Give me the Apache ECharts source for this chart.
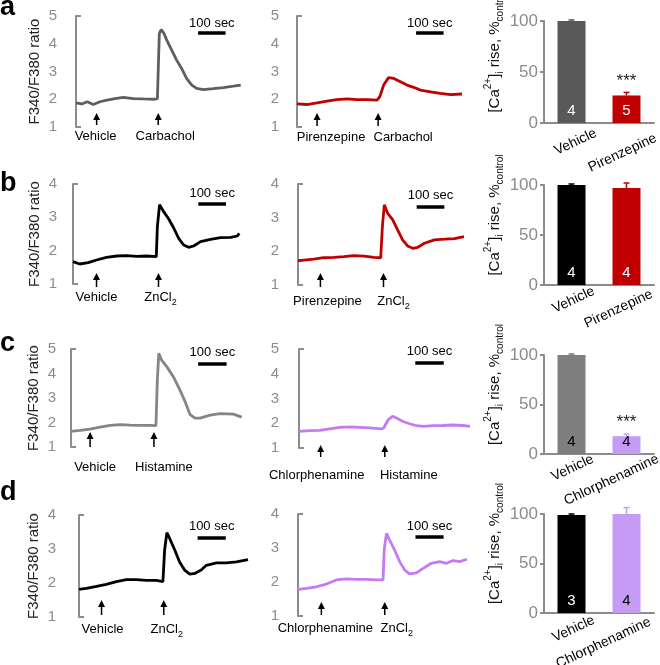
<!DOCTYPE html>
<html>
<head>
<meta charset="utf-8">
<script src="https://cdn.jsdelivr.net/npm/echarts@6/dist/echarts.min.js"></script>
<style>
html, body { margin: 0; padding: 0; background: #fff; }
#chart { width: 660px; height: 665px; }
</style>
</head>
<body>
<div id="chart"></div>
<script>
// ratio traces, [time in sec, F340/F380]
var traceA1 = [[0,1.87],[21,1.83],[41,1.91],[63,1.81],[87,1.91],[112,1.97],[142,2.02],[172,2.07],[208,2.02],[245,2.01],[287,2.0],[296,2.02],[303,4.37],[310,4.51],[320,4.37],[330,4.13],[348,3.77],[366,3.41],[384,3.11],[402,2.75],[421,2.51],[439,2.39],[463,2.35],[499,2.38],[536,2.42],[572,2.47],[599,2.51]];
var traceA2 = [[0,1.83],[36,1.81],[73,1.87],[109,1.93],[145,1.99],[182,2.01],[218,1.99],[255,1.99],[291,1.97],[301,2.09],[315,2.51],[333,2.78],[352,2.75],[376,2.63],[400,2.51],[424,2.43],[449,2.33],[485,2.27],[521,2.21],[558,2.17],[600,2.19]];
var traceB1 = [[0,1.67],[24,1.60],[55,1.64],[85,1.72],[121,1.80],[158,1.84],[194,1.85],[230,1.83],[267,1.84],[301,1.82],[305,2.73],[313,3.38],[327,3.18],[346,2.95],[364,2.68],[382,2.37],[400,2.17],[418,2.10],[436,2.14],[461,2.27],[497,2.34],[533,2.39],[570,2.40],[594,2.44],[601,2.52]];
var traceB2 = [[0,1.72],[21,1.74],[57,1.77],[93,1.81],[130,1.82],[166,1.84],[202,1.87],[239,1.86],[275,1.82],[299,1.81],[305,2.74],[312,3.38],[324,3.13],[342,2.94],[360,2.64],[378,2.34],[396,2.16],[415,2.09],[433,2.12],[457,2.24],[493,2.34],[530,2.36],[566,2.38],[600,2.44]];
var traceC1 = [[0,1.64],[32,1.68],[67,1.73],[102,1.81],[137,1.88],[172,1.91],[207,1.89],[242,1.88],[277,1.88],[298,1.87],[303,3.74],[308,4.82],[318,4.55],[336,4.28],[359,3.87],[382,3.33],[400,2.86],[418,2.32],[435,2.18],[453,2.18],[488,2.30],[523,2.36],[570,2.34],[599,2.22]];
var traceC2 = [[0,1.67],[37,1.70],[73,1.71],[108,1.77],[143,1.83],[178,1.85],[213,1.83],[248,1.81],[289,1.77],[297,1.81],[313,2.14],[328,2.28],[342,2.21],[365,2.07],[388,1.98],[412,1.90],[437,1.87],[470,1.90],[505,1.91],[540,1.93],[575,1.91],[600,1.87]];
var traceD1 = [[0,1.81],[26,1.84],[62,1.90],[97,1.96],[133,2.04],[168,2.10],[204,2.10],[239,2.08],[275,2.08],[298,2.04],[304,2.97],[312,3.48],[322,3.31],[340,2.97],[357,2.62],[375,2.38],[393,2.26],[411,2.28],[434,2.38],[452,2.52],[488,2.59],[523,2.59],[559,2.62],[600,2.69]];
var traceD2 = [[0,1.78],[30,1.81],[65,1.86],[101,1.94],[136,2.06],[172,2.09],[207,2.08],[243,2.08],[278,2.06],[302,2.06],[306,2.94],[314,3.43],[325,3.24],[343,2.94],[361,2.60],[379,2.35],[396,2.24],[420,2.27],[444,2.40],[473,2.55],[503,2.60],[527,2.55],[550,2.63],[574,2.60],[600,2.67]];

// drug application times (sec) and the label under each arrow
var arrowsA1 = [75, 299], namesA1 = ['Vehicle', 'Carbachol'];
var arrowsA2 = [73, 295], namesA2 = ['Pirenzepine', 'Carbachol'];
var arrowsB1 = [85, 309], namesB1 = ['Vehicle', 'ZnCl2'];
var arrowsB2 = [81, 309], namesB2 = ['Pirenzepine', 'ZnCl2'];
var arrowsC1 = [67, 291], namesC1 = ['Vehicle', 'Histamine'];
var arrowsC2 = [76, 301], namesC2 = ['Chlorphenamine', 'Histamine'];
var arrowsD1 = [80, 301], namesD1 = ['Vehicle', 'ZnCl2'];
var arrowsD2 = [83, 308], namesD2 = ['Chlorphenamine', 'ZnCl2'];

// summary bars: mean, sem, n, significance
var catsAB = ['Vehicle', 'Pirenzepine'];
var catsCD = ['Vehicle', 'Chlorphenamine'];
var meanA = [100, 27], semA = [1, 3], nA = [4, 5], sigA = ['', '***'];
var meanB = [100, 97], semB = [1, 5], nB = [4, 4], sigB = ['', ''];
var meanC = [100, 18], semC = [1, 2], nC = [4, 4], sigC = ['', '***'];
var meanD = [99, 100], semD = [1, 6.5], nD = [3, 4], sigD = ['', ''];

var FONT = '"Liberation Sans", Arial, sans-serif';
var GRAY = '#8c8c8c';
var RED = '#c00000';
var PURPLE = '#c47af2';

var tracePanels = [
  {data: traceA1, color: '#5e5e5e', axisX: 64, left: 76, top: 16, width: 165, height: 111, yMax: 5, yName: true,
   arrows: arrowsA1, names: namesA1, dx: [-1, 7], tip: 113, foot: 125, labelY: 136, scaleT: 444, barY: 33, textY: 23},
  {data: traceA2, color: RED, axisX: 286, left: 297, top: 16, width: 165, height: 111, yMax: 5,
   arrows: arrowsA2, names: namesA2, dx: [14, 25], tip: 113, foot: 126, labelY: 137, scaleT: 433, barY: 33, textY: 23},
  {data: traceB1, color: '#000', axisX: 64, left: 73, top: 184, width: 166, height: 100, yMax: 4, yName: true,
   arrows: arrowsB1, names: namesB1, dx: [0, 2], tip: 273, foot: 287, labelY: 297, scaleT: 453, barY: 204, textY: 193},
  {data: traceB2, color: RED, axisX: 286, left: 298, top: 184, width: 166, height: 101, yMax: 4,
   arrows: arrowsB2, names: namesB2, dx: [7, 10], tip: 273, foot: 287, labelY: 301, scaleT: 429, barY: 207, textY: 195},
  {data: traceC1, color: '#858585', axisX: 63, left: 71, top: 349, width: 171, height: 98, yMax: 5, yName: true,
   arrows: arrowsC1, names: namesC1, dx: [5, 10], tip: 432, foot: 447, labelY: 467, scaleT: 446, barY: 364, textY: 352},
  {data: traceC2, color: PURPLE, axisX: 286, left: 299, top: 349, width: 171, height: 99, yMax: 5,
   arrows: arrowsC2, names: namesC2, dx: [-4, 24], tip: 445, foot: 457, labelY: 475, scaleT: 408, barY: 363, textY: 351},
  {data: traceD1, color: '#000', axisX: 63, left: 79, top: 515, width: 169, height: 102, yMax: 4, yName: true,
   arrows: arrowsD1, names: namesD1, dx: [1, 3], tip: 600, foot: 615, labelY: 629, scaleT: 421, barY: 538, textY: 526},
  {data: traceD2, color: PURPLE, axisX: 286, left: 298, top: 514, width: 169, height: 102, yMax: 4,
   arrows: arrowsD2, names: namesD2, dx: [4, 12], tip: 602, foot: 615, labelY: 628, scaleT: 417, barY: 537, textY: 526}
];

var barPanels = [
  {cats: catsAB, mean: meanA, sem: semA, n: nA, sig: sigA, top: 21, height: 102,
   colors: ['#595959', RED], numColors: ['#fff', '#fff'], catDx: [4, -4], catDy: [19, 30]},
  {cats: catsAB, mean: meanB, sem: semB, n: nB, sig: sigB, top: 185, height: 100,
   colors: ['#000', RED], numColors: ['#fff', '#fff'], catDx: [2, -8], catDy: [15, 24]},
  {cats: catsCD, mean: meanC, sem: semC, n: nC, sig: sigC, top: 355, height: 99,
   colors: ['#7f7f7f', '#c69bf6'], numColors: ['#000', '#000'], catDx: [1, -15], catDy: [14, 26]},
  {cats: catsCD, mean: meanD, sem: semD, n: nD, sig: sigD, top: 514, height: 99,
   colors: ['#000', '#c69bf6'], numColors: ['#fff', '#000'], catDx: [2, -23], catDy: [16, 30]}
];

var grids = [], xAxes = [], yAxes = [], series = [];

tracePanels.forEach(function (p, i) {
  grids.push({left: p.left, top: p.top, width: p.width, height: p.height, outerBoundsMode: 'none'});
  xAxes.push({type: 'value', gridIndex: i, min: 0, max: 600, show: false});
  yAxes.push({
    type: 'value', gridIndex: i, min: 1, max: p.yMax, interval: 1,
    offset: p.left - p.axisX,
    axisLine: {show: true, lineStyle: {color: GRAY, width: 2}},
    axisTick: {show: true, inside: true, length: 5, customValues: [1, p.yMax], lineStyle: {color: GRAY, width: 2}},
    axisLabel: {color: GRAY, fontSize: 15, margin: 7, fontFamily: FONT},
    splitLine: {show: false},
    name: p.yName ? 'F340/F380 ratio' : '',
    nameLocation: 'middle', nameRotate: 90, nameGap: 22,
    nameTextStyle: {color: '#222', fontSize: 15, fontFamily: FONT}
  });
  series.push({
    type: 'line', xAxisIndex: i, yAxisIndex: i, data: p.data,
    showSymbol: false, lineStyle: {color: p.color, width: 2.8}, animation: false
  });
});

barPanels.forEach(function (b, k) {
  var i = tracePanels.length + k;
  grids.push({left: 544, top: b.top, width: 110, height: b.height, outerBoundsMode: 'none'});
  xAxes.push({
    type: 'category', gridIndex: i, data: b.cats,
    axisLine: {lineStyle: {color: GRAY, width: 2}},
    axisTick: {show: false},
    axisLabel: {show: false}
  });
  yAxes.push({
    type: 'value', gridIndex: i, min: 0, max: 100, interval: 50,
    axisLine: {show: true, lineStyle: {color: GRAY, width: 2}},
    axisTick: {show: true, length: 4, lineStyle: {color: GRAY, width: 2}},
    axisLabel: {color: GRAY, fontSize: 17, margin: 6, fontFamily: FONT},
    splitLine: {show: false},
    name: '{n|[Ca}{sup|2+}{n|]}{sub|i}{n| rise, %}{sub|control}',
    nameLocation: 'middle', nameRotate: 90, nameGap: 33,
    nameTextStyle: {
      padding: [0, 0, 0, 40],
      rich: {
        n: {fontSize: 15, color: '#111', lineHeight: 22, fontFamily: FONT},
        sup: {fontSize: 10, color: '#111', lineHeight: 12, verticalAlign: 'top', fontFamily: FONT},
        sub: {fontSize: 10, color: '#111', lineHeight: 12, verticalAlign: 'bottom', fontFamily: FONT}
      }
    }
  });
  series.push({
    type: 'bar', xAxisIndex: i, yAxisIndex: i, barWidth: 28, animation: false,
    data: b.mean.map(function (v, j) {
      return {value: v, itemStyle: {color: b.colors[j]},
        label: {color: b.numColors[j]}};
    }),
    label: {show: true, position: 'insideBottom', distance: 5, fontSize: 15, fontFamily: FONT,
      formatter: function (p) { return String(b.n[p.dataIndex]); }}
  });
  series.push({
    type: 'custom', xAxisIndex: i, yAxisIndex: i, animation: false, z: 3,
    data: b.mean.map(function (v, j) { return [j, v, b.sem[j], j]; }),
    encode: {x: 0, y: 1},
    renderItem: function (params, api) {
      var j = api.value(3);
      var base = api.coord([api.value(0), api.value(1)]);
      var top = api.coord([api.value(0), api.value(1) + api.value(2)]);
      var col = b.colors[j];
      var kids = [
        {type: 'line', shape: {x1: base[0], y1: base[1], x2: top[0], y2: top[1]}, style: {stroke: col, lineWidth: 1.5}},
        {type: 'line', shape: {x1: top[0] - 3, y1: top[1], x2: top[0] + 3, y2: top[1]}, style: {stroke: col, lineWidth: 1.5}}
      ];
      if (b.sig[j]) {
        kids.push({type: 'text', x: top[0], y: top[1] - 3,
          style: {text: b.sig[j], align: 'center', verticalAlign: 'bottom', fontSize: 17, fontFamily: FONT, fill: '#222'}});
      }
      return {type: 'group', children: kids};
    }
  });
});

var chart = echarts.init(document.getElementById('chart'));
chart.setOption({
  animation: false,
  textStyle: {fontFamily: FONT},
  grid: grids, xAxis: xAxes, yAxis: yAxes, series: series
});

function labelText(name) {
  if (name === 'ZnCl2') return '{b|ZnCl}{s|2}';
  return '{b|' + name + '}';
}

var richLabel = {
  b: {fontSize: 13, fontFamily: FONT, fill: '#000', lineHeight: 20},
  s: {fontSize: 9, fontFamily: FONT, fill: '#000', lineHeight: 10, verticalAlign: 'bottom'}
};

var graphics = [];
tracePanels.forEach(function (p, i) {
  p.arrows.forEach(function (t, k) {
    var x = chart.convertToPixel({gridIndex: i}, [t, 1])[0];
    graphics.push({type: 'line', shape: {x1: x, y1: p.tip + 5, x2: x, y2: p.foot}, style: {stroke: '#000', lineWidth: 1.5}});
    graphics.push({type: 'polygon', shape: {points: [[x, p.tip], [x - 3.5, p.tip + 7], [x + 3.5, p.tip + 7]]}, style: {fill: '#000'}});
    graphics.push({type: 'text', x: x + p.dx[k], y: p.labelY,
      style: {text: labelText(p.names[k]), rich: richLabel, align: 'center', verticalAlign: 'middle'}});
  });
  var a = chart.convertToPixel({gridIndex: i}, [p.scaleT, 1]);
  var b = chart.convertToPixel({gridIndex: i}, [p.scaleT + 100, 1]);
  graphics.push({type: 'rect', shape: {x: a[0], y: p.barY - 1.75, width: b[0] - a[0], height: 3.5}, style: {fill: '#000'}});
  graphics.push({type: 'text', x: (a[0] + b[0]) / 2, y: p.textY,
    style: {text: '100 sec', fontSize: 13, fontFamily: FONT, fill: '#000', align: 'center', verticalAlign: 'middle'}});
});

// slanted category names under the summary bars
barPanels.forEach(function (b, k) {
  var i = tracePanels.length + k;
  b.cats.forEach(function (c, j) {
    var pt = chart.convertToPixel({gridIndex: i}, [j, 0]);
    graphics.push({type: 'text', x: pt[0] + b.catDx[j], y: pt[1] + b.catDy[j], rotation: 25 * Math.PI / 180,
      style: {text: c, fontSize: 14, fontFamily: FONT, fill: '#000', align: 'center', verticalAlign: 'middle'}});
  });
});

[['a', 8], ['b', 184], ['c', 344], ['d', 493]].forEach(function (l) {
  graphics.push({type: 'text', x: 0, y: l[1],
    style: {text: l[0], fontSize: 27, fontWeight: 'bold', fontFamily: FONT, fill: '#000', align: 'left', verticalAlign: 'middle'}});
});

chart.setOption({graphic: graphics});
</script>
</body>
</html>
